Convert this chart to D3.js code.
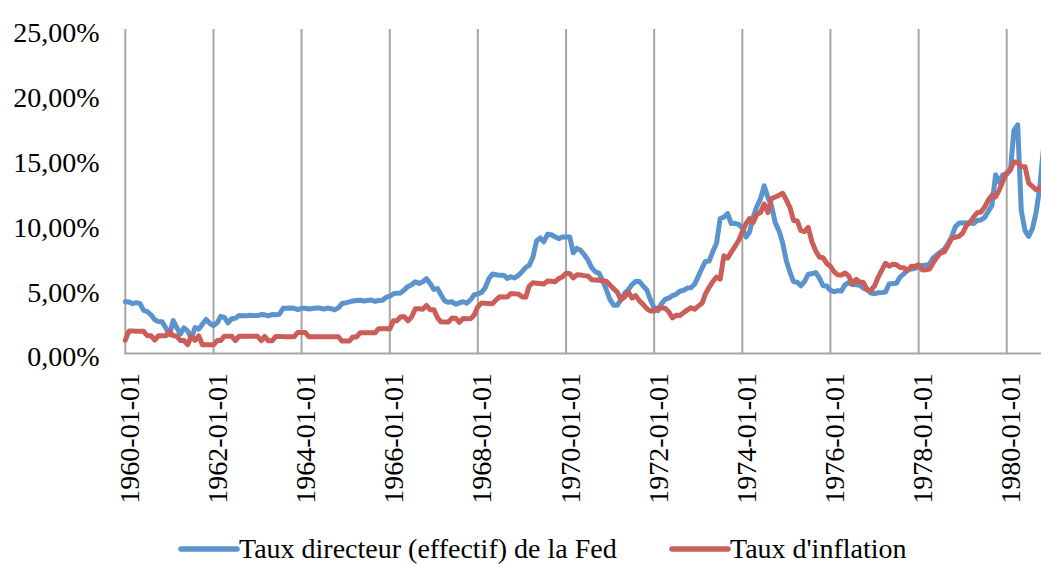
<!DOCTYPE html>
<html>
<head>
<meta charset="utf-8">
<script src="https://cdn.jsdelivr.net/npm/d3@7"></script>
<style>
  body { margin: 0; background: #fff; }
  svg { display: block; }
  text { font-family: "Liberation Serif", serif; fill: #000; }
</style>
</head>
<body>
<div id="chart"></div>
<script>
// series monthly from 1960-01, in %
const firstMonth = new Date(1960, 0, 1);

const fedFunds = [
  3.99, 3.97, 3.84, 3.92, 3.85, 3.32, 3.23, 2.98, 2.60, 2.47, 2.44, 1.98,
  1.45, 2.54, 2.02, 1.49, 1.98, 1.73, 1.17, 2.00, 1.88, 2.26, 2.62, 2.33,
  2.15, 2.37, 2.85, 2.78, 2.36, 2.68, 2.71, 2.93, 2.90, 2.90, 2.94, 2.93,
  2.92, 3.00, 2.98, 2.90, 3.00, 2.99, 3.02, 3.49, 3.48, 3.50, 3.48, 3.38,
  3.48, 3.48, 3.43, 3.47, 3.50, 3.50, 3.42, 3.50, 3.45, 3.36, 3.52, 3.85,
  3.90, 3.98, 4.04, 4.09, 4.10, 4.04, 4.09, 4.12, 4.01, 4.08, 4.10, 4.32,
  4.42, 4.60, 4.65, 4.67, 4.90, 5.17, 5.30, 5.53, 5.40, 5.53, 5.76, 5.40,
  4.94, 5.00, 4.53, 4.05, 3.94, 3.98, 3.79, 3.90, 3.99, 3.88, 4.13, 4.51,
  4.60, 4.71, 5.05, 5.76, 6.12, 6.07, 6.02, 6.03, 5.78, 5.91, 5.82, 6.02,
  6.30, 6.64, 6.79, 7.41, 8.67, 8.90, 8.61, 9.19, 9.15, 9.00, 8.85, 8.97,
  8.98, 8.98, 7.76, 8.10, 7.95, 7.61, 7.21, 6.61, 6.29, 6.20, 5.60, 4.90,
  4.14, 3.72, 3.71, 4.16, 4.63, 4.91, 5.31, 5.56, 5.55, 5.20, 4.91, 4.14,
  3.50, 3.29, 3.83, 4.17, 4.27, 4.46, 4.55, 4.80, 4.87, 5.04, 5.06, 5.33,
  5.94, 6.58, 7.09, 7.12, 7.84, 8.49, 10.40, 10.50, 10.78, 10.01, 10.03, 9.95,
  9.65, 8.97, 9.35, 10.51, 11.31, 11.93, 12.92, 12.01, 11.34, 10.06, 9.45, 8.53,
  7.13, 6.24, 5.54, 5.49, 5.22, 5.55, 6.10, 6.14, 6.24, 5.82, 5.22, 5.20,
  4.87, 4.77, 4.84, 4.82, 5.29, 5.48, 5.31, 5.29, 5.25, 5.02, 4.95, 4.65,
  4.61, 4.68, 4.69, 4.73, 5.35, 5.39, 5.42, 5.90, 6.14, 6.47, 6.51, 6.56,
  6.70, 6.78, 6.79, 6.89, 7.36, 7.60, 7.81, 8.04, 8.45, 8.96, 9.76, 10.03,
  10.07, 10.06, 10.09, 10.01, 10.24, 10.29, 10.47, 10.94, 11.43, 13.77, 13.18, 13.78,
  13.82, 14.13, 17.19, 17.61, 10.98, 9.47, 9.03, 9.61, 10.87, 12.81, 15.85
];

const inflation = [
  1.03, 1.73, 1.73, 1.72, 1.72, 1.71, 1.37, 1.37, 1.03, 1.36, 1.36, 1.36,
  1.69, 1.36, 1.35, 1.00, 1.00, 0.68, 1.35, 1.01, 1.35, 0.67, 0.67, 0.67,
  0.67, 1.00, 1.00, 1.33, 1.33, 1.33, 1.00, 1.33, 1.32, 1.32, 1.32, 1.32,
  1.32, 1.00, 1.31, 0.98, 0.98, 1.31, 1.31, 1.30, 1.30, 1.30, 1.30, 1.62,
  1.62, 1.62, 1.29, 1.29, 1.29, 1.29, 1.29, 1.29, 1.29, 1.29, 1.29, 0.96,
  0.96, 0.96, 1.28, 1.28, 1.60, 1.59, 1.59, 1.59, 1.59, 1.91, 1.90, 1.90,
  1.90, 2.53, 2.53, 2.83, 2.83, 2.51, 2.82, 3.45, 3.44, 3.41, 3.70, 3.38,
  3.38, 2.75, 2.44, 2.43, 2.42, 2.73, 2.71, 2.40, 2.69, 2.68, 2.67, 2.97,
  3.60, 3.90, 3.87, 3.85, 3.83, 4.13, 4.38, 4.36, 4.35, 4.62, 4.60, 4.59,
  4.37, 4.34, 5.18, 5.45, 5.42, 5.39, 5.36, 5.59, 5.56, 5.52, 5.77, 5.89,
  6.18, 6.15, 5.82, 6.06, 6.04, 6.00, 5.97, 5.69, 5.67, 5.64, 5.61, 5.57,
  5.26, 4.98, 4.73, 4.15, 4.36, 4.75, 4.27, 4.46, 4.05, 3.79, 3.46, 3.27,
  3.27, 3.51, 3.50, 3.49, 3.22, 2.74, 2.95, 2.93, 3.15, 3.34, 3.53, 3.41,
  3.65, 3.87, 4.58, 5.10, 5.53, 5.89, 5.73, 7.52, 7.35, 7.81, 8.26, 8.71,
  9.39, 10.02, 10.39, 10.09, 10.71, 10.86, 11.51, 10.86, 11.95, 12.06, 12.20, 12.34,
  11.82, 11.22, 10.25, 10.21, 9.47, 9.40, 9.72, 8.60, 7.91, 7.44, 7.38, 6.94,
  6.72, 6.29, 6.07, 6.05, 6.20, 5.97, 5.35, 5.71, 5.50, 5.47, 4.88, 4.86,
  5.21, 5.91, 6.41, 6.95, 6.73, 6.87, 6.83, 6.62, 6.60, 6.39, 6.72, 6.70,
  6.84, 6.43, 6.45, 6.50, 6.98, 7.40, 7.74, 7.83, 8.30, 8.87, 8.96, 9.02,
  9.28, 9.86, 10.09, 10.49, 10.85, 10.89, 11.26, 11.82, 12.18, 12.07, 12.61, 13.29,
  13.91, 14.18, 14.76, 14.73, 14.41, 14.38, 13.13, 12.87, 12.60, 12.77, 12.65
];

const xTickLabels = [
  "1960-01-01", "1962-01-01", "1964-01-01", "1966-01-01", "1968-01-01", "1970-01-01",
  "1972-01-01", "1974-01-01", "1976-01-01", "1978-01-01", "1980-01-01"
];
const yTickValues = [0, 0.05, 0.10, 0.15, 0.20, 0.25];

const seriesNames = ["Taux directeur (effectif) de la Fed", "Taux d'inflation"];
const seriesColors = ["#5B94CC", "#CB5E59"];

const width = 1041, height = 565;
const plot = { left: 125.3, top: 29, bottom: 353.5, x1980: 1006.7 };

const svg = d3.select("#chart").append("svg")
  .attr("width", width)
  .attr("height", height);

const parseDay = d3.timeParse("%Y-%m-%d");

const x = d3.scaleTime()
  .domain([parseDay("1960-01-01"), parseDay("1980-01-01")])
  .range([plot.left, plot.x1980]);

const y = d3.scaleLinear()
  .domain([0, 0.25])
  .range([plot.bottom, plot.top]);

const frFormat = d3.formatLocale({
  decimal: ",", thousands: "\u00a0", grouping: [3], currency: ["", " €"]
}).format(".2%");

// grille verticale tous les 2 ans
const tickDates = xTickLabels.map(parseDay);
svg.append("g")
  .selectAll("line")
  .data(tickDates)
  .join("line")
  .attr("x1", d => x(d)).attr("x2", d => x(d))
  .attr("y1", plot.top).attr("y2", plot.bottom)
  .attr("stroke", "#A6A6A6")
  .attr("stroke-width", 2);

// ligne de l'axe horizontal
svg.append("line")
  .attr("x1", plot.left - 1).attr("x2", width)
  .attr("y1", plot.bottom).attr("y2", plot.bottom)
  .attr("stroke", "#A6A6A6")
  .attr("stroke-width", 2);

// axe Y
const yAxis = svg.append("g")
  .attr("transform", `translate(${plot.left},0)`)
  .call(d3.axisLeft(y).tickValues(yTickValues).tickFormat(frFormat).tickSize(0).tickPadding(25.8));
yAxis.select(".domain").remove();
yAxis.selectAll("text")
  .attr("dy", "0.445em")
  .style("font-size", "28px")
  .style("font-family", "'Liberation Serif', serif");

// axe X (étiquettes verticales)
const xAxis = svg.append("g")
  .attr("transform", `translate(0,${plot.bottom})`)
  .call(d3.axisBottom(x).tickValues(tickDates).tickFormat(d3.timeFormat("%Y-%m-%d")).tickSize(0));
xAxis.select(".domain").remove();
xAxis.selectAll("text")
  .attr("transform", "rotate(-90)")
  .attr("text-anchor", "end")
  .attr("x", -19.5)
  .attr("y", 13)
  .attr("dy", 0)
  .style("font-size", "28px")
  .style("font-family", "'Liberation Serif', serif");

// courbes
const monthDate = i => d3.timeMonth.offset(firstMonth, i);
const line = d3.line()
  .x((d, i) => x(monthDate(i)))
  .y(d => y(d / 100));

[fedFunds, inflation].forEach((values, k) => {
  svg.append("path")
    .datum(values)
    .attr("d", line)
    .attr("fill", "none")
    .attr("stroke", seriesColors[k])
    .attr("stroke-width", 5)
    .attr("stroke-linejoin", "round")
    .attr("stroke-linecap", "round");
});

// légende (remontée un peu pour ne pas couper les jambages)
const legendItems = [
  { x0: 181, x1: 237, tx: 239 },
  { x0: 672, x1: 728, tx: 730 }
];
const legend = svg.append("g");
legendItems.forEach((it, k) => {
  legend.append("line")
    .attr("x1", it.x0).attr("x2", it.x1)
    .attr("y1", 549).attr("y2", 549)
    .attr("stroke", seriesColors[k])
    .attr("stroke-width", 5.5)
    .attr("stroke-linecap", "round");
  legend.append("text")
    .attr("x", it.tx)
    .attr("y", 557.5)
    .style("font-size", "28px")
    .text(seriesNames[k]);
});
</script>
</body>
</html>
